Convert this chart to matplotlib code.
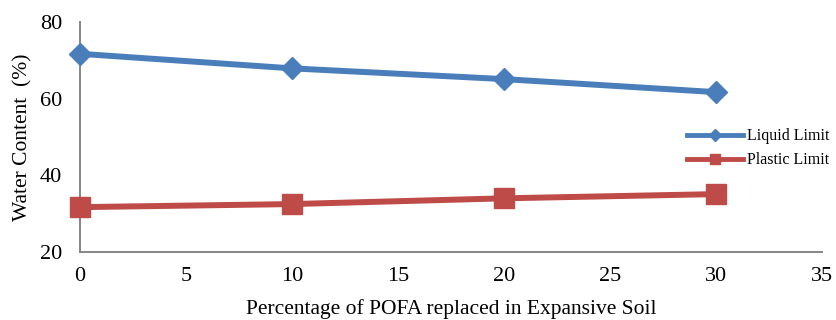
import matplotlib.pyplot as plt

plt.rcParams["font.family"] = "Liberation Serif"

# POFA replacement (%) and Atterberg limits (%)
pofa = [0, 10, 20, 30]
liquid_limit = [71.7, 67.9, 65.1, 61.7]
plastic_limit = [31.7, 32.5, 34.0, 35.1]

fig = plt.figure(figsize=(8.37, 3.2), dpi=100)
ax = fig.add_axes([0.0956, 0.2125, 0.8865, 0.7188])

ax.plot(pofa, liquid_limit, color="#4A7EBB", lw=4.3, marker="D",
        markersize=11.5, label="Liquid Limit", clip_on=False, zorder=3)
ax.plot(pofa, plastic_limit, color="#BE4B48", lw=4.3, marker="s",
        markersize=14, label="Plastic Limit", clip_on=False, zorder=3)

ax.set(xlim=(0, 35), ylim=(20, 80), xticks=range(0, 36, 5), yticks=[20, 40, 60, 80])
for side in ("top", "right"):
    ax.spines[side].set_visible(False)
for side in ("left", "bottom"):
    ax.spines[side].set_color("#868686")
    ax.spines[side].set_linewidth(1.4)
ax.tick_params(length=0, labelsize=16)
ax.tick_params(axis="x", pad=10.5)
ax.tick_params(axis="y", pad=13)

ax.set_xlabel("Percentage of POFA replaced in Expansive Soil", fontsize=15.5, va="baseline")
ax.xaxis.set_label_coords(0.5, -0.27)
ax.set_ylabel("Water Content  (%)", fontsize=15.5, va="center")
ax.yaxis.set_label_coords(-0.077, 0.5)

leg = fig.legend(loc="center left", bbox_to_anchor=(0.821, 0.536), frameon=False,
                 fontsize=11.5, handlelength=3.5, handletextpad=0.25, labelspacing=0.5,
                 borderpad=0, borderaxespad=0, markerscale=0.5)
for line in leg.get_lines():
    line.set_linewidth(3.5)

fig.savefig("out.png", dpi=100)
